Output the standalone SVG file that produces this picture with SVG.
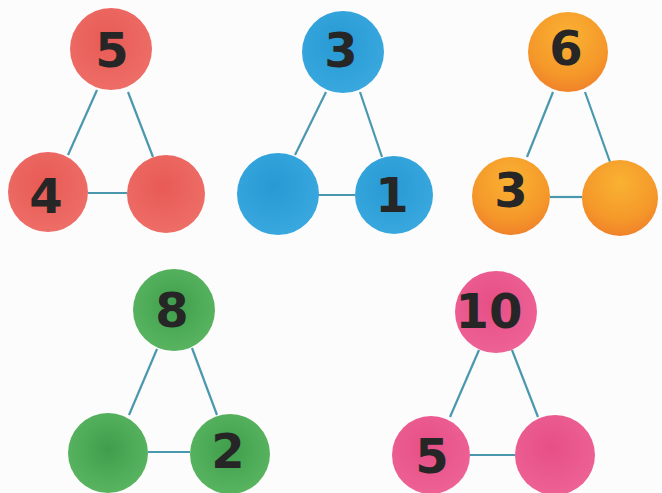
<svg xmlns="http://www.w3.org/2000/svg" width="662" height="493" viewBox="0 0 662 493">
<style>
.edge{stroke:#4a98ae;stroke-width:2.2;fill:none}
.num{font-family:"DejaVu Sans",sans-serif;font-weight:bold;font-size:48px;fill:#262626;text-anchor:middle}
</style>
<defs>
<radialGradient id="red" cx="0.45" cy="0.4" r="0.65"><stop offset="0" stop-color="#e85a55"/><stop offset="1" stop-color="#ee6f68"/></radialGradient>
<radialGradient id="blue" cx="0.45" cy="0.4" r="0.65"><stop offset="0" stop-color="#2899d4"/><stop offset="1" stop-color="#3aa9df"/></radialGradient>
<radialGradient id="orange" cx="0.5" cy="0.3" r="0.7"><stop offset="0" stop-color="#f9b232"/><stop offset="0.7" stop-color="#f5982a"/><stop offset="1" stop-color="#f0822a"/></radialGradient>
<radialGradient id="green" cx="0.5" cy="0.45" r="0.65"><stop offset="0" stop-color="#3f9e4c"/><stop offset="1" stop-color="#5db863"/></radialGradient>
<radialGradient id="pink" cx="0.45" cy="0.4" r="0.65"><stop offset="0" stop-color="#e64f86"/><stop offset="1" stop-color="#ee6396"/></radialGradient>
</defs>
<rect width="662" height="493" fill="#fcfcfc"/>
<g id="connectors">
<line class="edge" x1="97" y1="90" x2="68" y2="155"/>
<line class="edge" x1="128" y1="92" x2="153" y2="157"/>
<line class="edge" x1="88" y1="193" x2="127" y2="193"/>
<line class="edge" x1="326" y1="92" x2="295" y2="155"/>
<line class="edge" x1="360" y1="92" x2="382" y2="157"/>
<line class="edge" x1="318" y1="195" x2="355" y2="195"/>
<line class="edge" x1="553" y1="92" x2="527" y2="157"/>
<line class="edge" x1="585" y1="92" x2="610" y2="162"/>
<line class="edge" x1="550" y1="197" x2="582" y2="197"/>
<line class="edge" x1="157" y1="349" x2="129" y2="415"/>
<line class="edge" x1="192" y1="348" x2="217" y2="415"/>
<line class="edge" x1="148" y1="452" x2="190" y2="452"/>
<line class="edge" x1="479" y1="350" x2="450" y2="417"/>
<line class="edge" x1="512" y1="350" x2="538" y2="417"/>
<line class="edge" x1="470" y1="455" x2="515" y2="455"/>
</g>
<g id="red-top"><circle cx="111" cy="49" r="41" fill="url(#red)"/><text class="num" x="112" y="67">5</text></g>
<g id="red-left"><circle cx="48" cy="192" r="40" fill="url(#red)"/><text class="num" x="46" y="213">4</text></g>
<g id="red-right"><circle cx="166" cy="194" r="39" fill="url(#red)"/></g>
<g id="blue-top"><circle cx="343" cy="52" r="41" fill="url(#blue)"/><text class="num" x="341" y="67">3</text></g>
<g id="blue-left"><circle cx="278" cy="194" r="41" fill="url(#blue)"/></g>
<g id="blue-right"><circle cx="394" cy="195" r="39" fill="url(#blue)"/><text class="num" x="392" y="212">1</text></g>
<g id="orange-top"><circle cx="568" cy="52" r="40" fill="url(#orange)"/><text class="num" x="566" y="65">6</text></g>
<g id="orange-left"><circle cx="511" cy="196" r="39" fill="url(#orange)"/><text class="num" x="511" y="207">3</text></g>
<g id="orange-right"><circle cx="620" cy="198" r="38" fill="url(#orange)"/></g>
<g id="green-top"><circle cx="174" cy="310" r="41" fill="url(#green)"/><text class="num" x="172" y="327">8</text></g>
<g id="green-left"><circle cx="108" cy="453" r="40" fill="url(#green)"/></g>
<g id="green-right"><circle cx="230" cy="454" r="40" fill="url(#green)"/><text class="num" x="228" y="468">2</text></g>
<g id="pink-top"><circle cx="496" cy="312" r="41" fill="url(#pink)"/><text class="num" x="489" y="328">10</text></g>
<g id="pink-left"><circle cx="431" cy="455" r="39" fill="url(#pink)"/><text class="num" x="432" y="473">5</text></g>
<g id="pink-right"><circle cx="555" cy="455" r="40" fill="url(#pink)"/></g>
</svg>
